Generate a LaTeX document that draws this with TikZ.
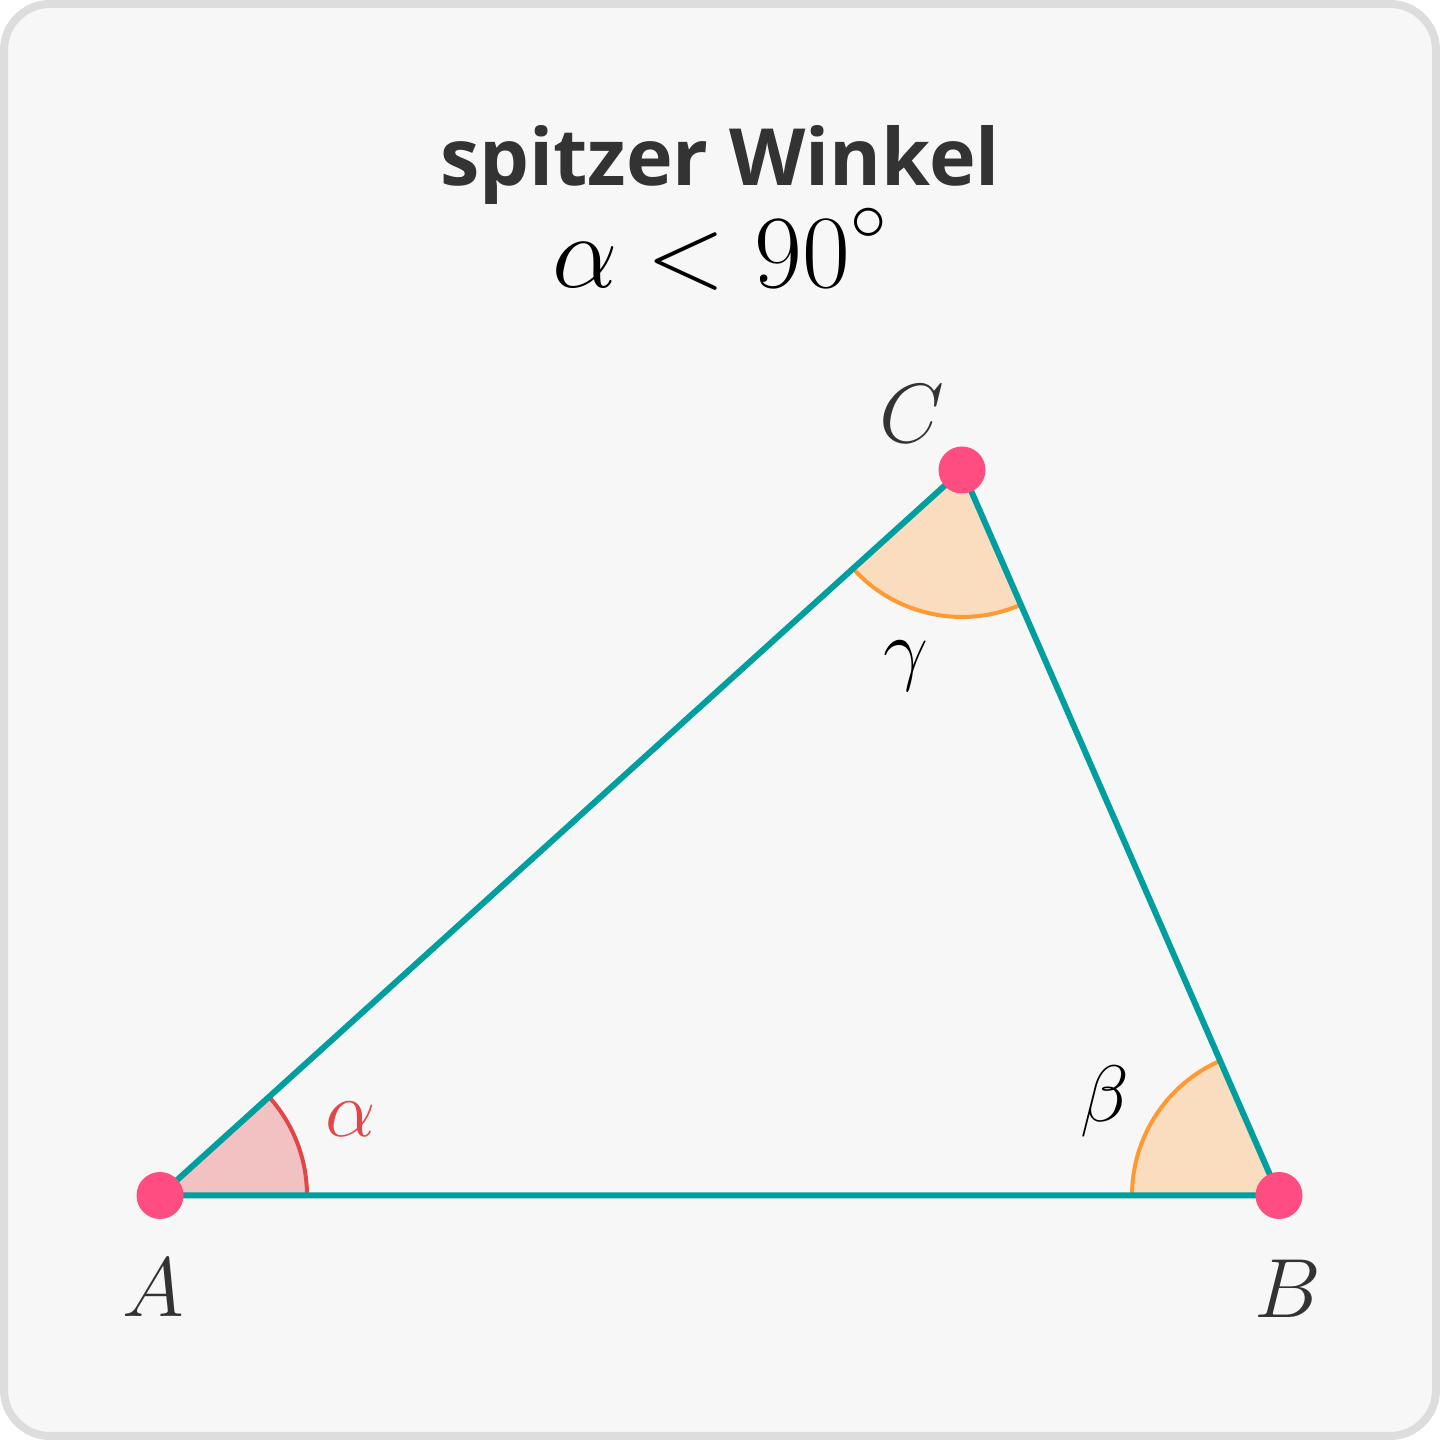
\RequirePackage{fix-cm}
\documentclass[tikz,border=0pt]{standalone}
\usepackage{fontspec}
\newfontfamily\titlefont{Open Sans}
\usetikzlibrary{angles}
\definecolor{bgc}{HTML}{F7F7F7}
\definecolor{framec}{HTML}{DDDDDD}
\definecolor{tealc}{HTML}{009E9E}
\definecolor{dotc}{HTML}{FF4D82}
\definecolor{redarc}{HTML}{E04848}
\definecolor{redfill}{HTML}{F2C2C2}
\definecolor{orarc}{HTML}{FF9A33}
\definecolor{orfill}{HTML}{FADCBE}
\definecolor{darktext}{HTML}{333333}
\tikzset{
  side/.style={draw=tealc, line width=3pt},
  vdot/.style={circle, fill=dotc, inner sep=0pt, minimum size=23.5pt},
  ptlabel/.style={anchor=base, text=darktext, font=\fontsize{42}{48}\selectfont},
  anglabel/.style={anchor=base, font=\fontsize{40}{46}\selectfont},
  redangle/.style={draw=redarc, fill=redfill, line width=2pt, angle radius=73.5pt},
  orangle/.style={draw=orarc, fill=orfill, line width=2pt, angle radius=73.5pt},
}
\begin{document}
\begin{tikzpicture}[x=0.5pt,y=0.5pt]
\useasboundingbox (0,0) rectangle (1440,1440);
\draw[fill=bgc, draw=framec, line width=4pt, rounded corners=23pt] (4,4) rectangle (1436,1436);
\node[anchor=base, inner sep=0pt, text=darktext, font=\titlefont\bfseries\fontsize{39.5}{46}\selectfont] (title) at (720,1254) {spitzer Winkel};
\node[anchor=base, inner sep=0pt, font=\fontsize{52}{60}\selectfont] (cond) at (720,1152) {$\alpha < 90^{\raisebox{5pt}{$\scriptstyle\circ$}}$};
\coordinate (A) at (160,244.5);
\coordinate (B) at (1279,244.5);
\coordinate (C) at (962,970);
\pic[redangle] {angle = B--A--C};
\pic[orangle] {angle = C--B--A};
\pic[orangle] {angle = A--C--B};
\draw[side] (A) -- (B) -- (C) -- cycle;
\node[vdot] (dA) at (A) {};
\node[vdot] (dB) at (B) {};
\node[vdot] (dC) at (C) {};
\node[ptlabel] (lA) at (153,123) {$A$};
\node[ptlabel] (lB) at (1288,122) {$B$};
\node[ptlabel] (lC) at (912,997) {$C$};
\node[anglabel, text=redarc] (la) at (351,303) {$\alpha$};
\node[anglabel] (lb) at (1105,318) {$\beta$};
\node[anglabel] (lg) at (906,764) {$\gamma$};
\end{tikzpicture}
\end{document}
